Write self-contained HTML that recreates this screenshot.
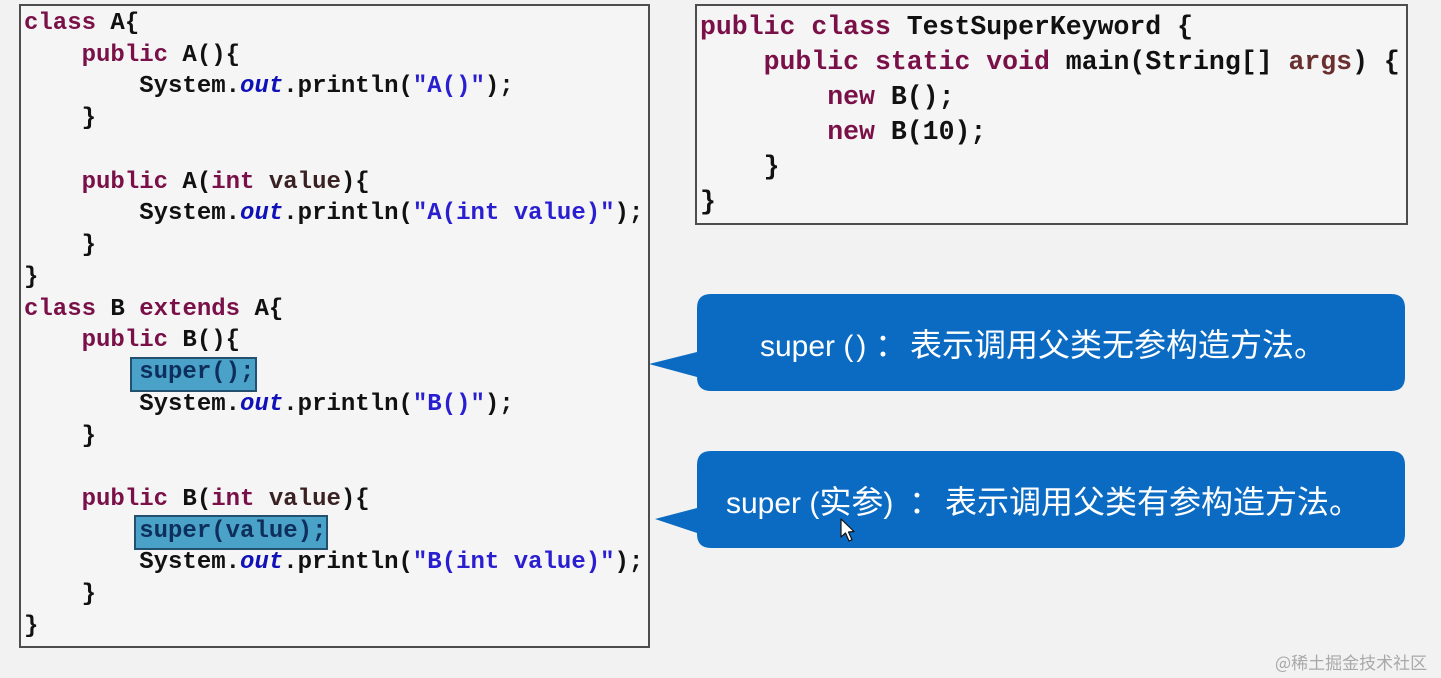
<!DOCTYPE html>
<html>
<head>
<meta charset="utf-8">
<style>
  html, body { margin:0; padding:0; }
  body { width:1441px; height:678px; background:#f2f2f2; position:relative; overflow:hidden; }
  .box { position:absolute; background:#f5f5f5; border:2px solid #4d4d4d; box-sizing:border-box; }
  pre { margin:0; position:absolute; font-family:"Liberation Mono", monospace; font-weight:bold; color:#111; white-space:pre; }
  .k { color:#7a1048; }
  .s { color:#2a1fd0; }
  .o { color:#1010b8; font-style:italic; }
  .p { color:#3a2222; }
  .a { color:#6a3030; }
  .hl { position:absolute; background:#4aa2c8; border:2px solid #22506e; box-sizing:border-box; }
  .hlt { color:#0e2f5c; }
  .bt { position:absolute; color:#fff; font-family:"Liberation Sans", "Noto Sans CJK SC", sans-serif; font-size:32px; line-height:40px; white-space:nowrap; }
  .bt .l { font-size:30px; }
  .cn { position:absolute; color:#fff; font-family:"Noto Sans CJK TC", "Noto Sans CJK SC", sans-serif; font-size:32px; line-height:40px; width:32px; text-align:center; }
  .wm { position:absolute; left:1275px; top:650px; font-family:"Noto Sans CJK SC", sans-serif; font-size:17px; color:#a9a9a9; white-space:nowrap; line-height:24px; }
</style>
</head>
<body>
  <div class="box" style="left:19px; top:4px; width:631px; height:644px;"></div>
  <div class="box" style="left:695px; top:4px; width:713px; height:221px;"></div>

  <div class="hl" style="left:130px; top:357px; width:127px; height:35px;"></div>
  <div class="hl" style="left:134px; top:515px; width:194px; height:35px;"></div>

<pre style="left:24px; top:8px; font-size:24px; line-height:31.74px;"><span class="k">class</span> A{
    <span class="k">public</span> A(){
        System.<span class="o">out</span>.println(<span class="s">"A()"</span>);
    }

    <span class="k">public</span> A(<span class="k">int</span> <span class="p">value</span>){
        System.<span class="o">out</span>.println(<span class="s">"A(int value)"</span>);
    }
}
<span class="k">class</span> B <span class="k">extends</span> A{
    <span class="k">public</span> B(){
        <span class="hlt">super();</span>
        System.<span class="o">out</span>.println(<span class="s">"B()"</span>);
    }

    <span class="k">public</span> B(<span class="k">int</span> <span class="p">value</span>){
        <span class="hlt">super(value);</span>
        System.<span class="o">out</span>.println(<span class="s">"B(int value)"</span>);
    }
}</pre>

<pre style="left:700px; top:9.5px; font-size:26.5px; line-height:35px;"><span class="k">public</span> <span class="k">class</span> TestSuperKeyword {
    <span class="k">public</span> <span class="k">static</span> <span class="k">void</span> main(String[] <span class="a">args</span>) {
        <span class="k">new</span> B();
        <span class="k">new</span> B(10);
    }
}</pre>

  <svg width="1441" height="678" style="position:absolute; left:0; top:0;" xmlns="http://www.w3.org/2000/svg">
    <path d="M711 294 H1391 Q1405 294 1405 308 V377 Q1405 391 1391 391 H711 Q697 391 697 377 V377 L649 364 L697 352 V308 Q697 294 711 294 Z" fill="#0b6bc3"/>
    <path d="M711 451 H1391 Q1405 451 1405 465 V534 Q1405 548 1391 548 H711 Q697 548 697 534 V533 L655 519 L697 508 V465 Q697 451 711 451 Z" fill="#0b6bc3"/>
  </svg>

  <div class="bt" style="left:760px; top:325px;"><span class="l">super (</span><span class="l" style="margin-left:3px;">)</span></div>
  <div class="cn" style="left:867px; top:325px;">：</div>
  <div class="bt" style="left:910px; top:325px;">表示调用父类无参构造方法。</div>

  <div class="bt" style="left:726px; top:482px;"><span class="l">super (</span>实参<span class="l">)</span></div>
  <div class="cn" style="left:901px; top:482px;">：</div>
  <div class="bt" style="left:945px; top:482px;">表示调用父类有参构造方法。</div>

  <svg width="1441" height="678" style="position:absolute; left:0; top:0;" xmlns="http://www.w3.org/2000/svg">
    <path d="M841 519 L841 537 L845.5 533 L849 541 L852 539.7 L848.5 532 L854 531.5 Z" fill="#fff" stroke="#111" stroke-width="1.2" stroke-linejoin="round"/>
  </svg>

  <div class="wm">@稀土掘金技术社区</div>
</body>
</html>
